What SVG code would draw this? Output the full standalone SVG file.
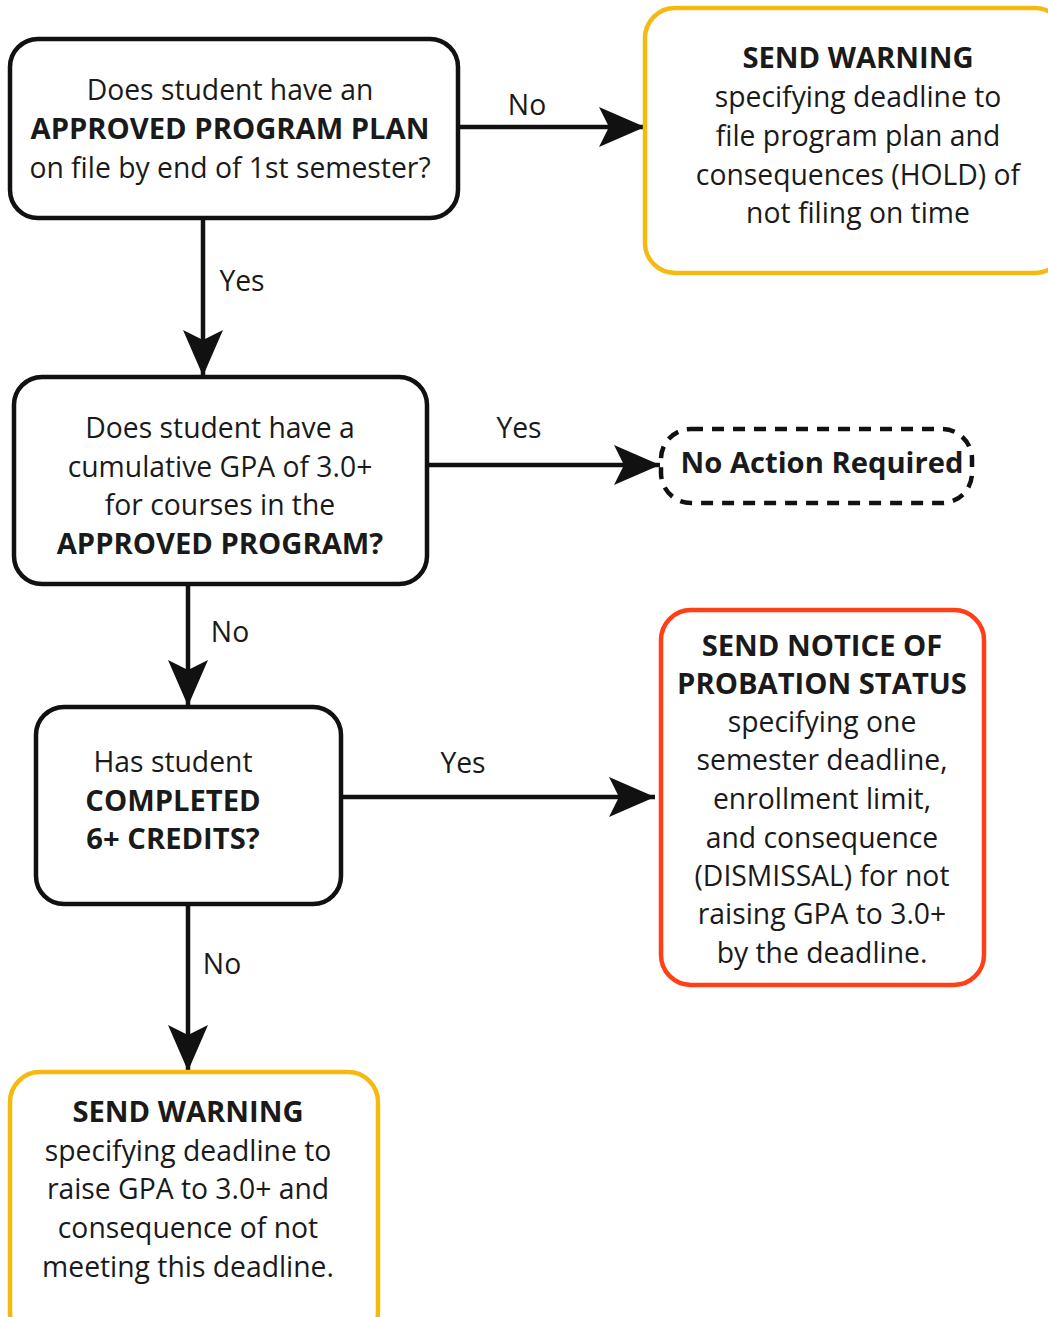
<svg xmlns="http://www.w3.org/2000/svg" width="1048" height="1317" viewBox="0 0 1048 1317">
<style>
.box{fill:#fff;stroke:#111;stroke-width:4.5}
.warn{fill:#fff;stroke:#F5B912;stroke-width:4.5}
.prob{fill:#fff;stroke:#FF4016;stroke-width:4.5}
.dash{fill:#fff;stroke:#111;stroke-width:4.5;stroke-dasharray:12 9}
.line{fill:none;stroke:#111;stroke-width:4.5}
text{font-family:"Open Sans","Noto Sans","Liberation Sans",sans-serif;font-size:28.3px;fill:#1a1a1a;text-anchor:middle}
.b{font-weight:bold;font-size:29.2px}
</style>
<defs>
<marker id="ah" markerUnits="userSpaceOnUse" markerWidth="50" markerHeight="44" refX="46" refY="22" orient="auto" viewBox="0 0 50 44">
<path d="M0,2 L46,22 L0,42 L10,22 Z" fill="#111"/>
</marker>
</defs>
<g id="connectors">
<line class="line" x1="458" y1="127" x2="645" y2="127" marker-end="url(#ah)"/>
<line class="line" x1="203" y1="218" x2="203" y2="376" marker-end="url(#ah)"/>
<line class="line" x1="427" y1="465" x2="660" y2="465" marker-end="url(#ah)"/>
<line class="line" x1="188" y1="584" x2="188" y2="706" marker-end="url(#ah)"/>
<line class="line" x1="341" y1="797" x2="655" y2="797" marker-end="url(#ah)"/>
<line class="line" x1="188" y1="904" x2="188" y2="1071" marker-end="url(#ah)"/>
<text x="527" y="115">No</text>
<text x="242" y="291">Yes</text>
<text x="519" y="438">Yes</text>
<text x="230" y="642">No</text>
<text x="463" y="773">Yes</text>
<text x="222" y="974">No</text>
</g>
<g id="q1">
<rect class="box" x="10" y="39" width="448" height="179" rx="28"/>
<text x="230" y="100">Does student have an</text>
<text x="230" y="139" class="b">APPROVED PROGRAM PLAN</text>
<text x="230" y="178">on file by end of 1st semester?</text>
</g>
<g id="warn1">
<rect class="warn" x="645" y="8" width="420" height="265" rx="30"/>
<text x="858" y="68" class="b">SEND WARNING</text>
<text x="858" y="107">specifying deadline to</text>
<text x="858" y="146">file program plan and</text>
<text x="858" y="185">consequences (HOLD) of</text>
<text x="858" y="223">not filing on time</text>
</g>
<g id="q2">
<rect class="box" x="14" y="377" width="413" height="207" rx="28"/>
<text x="220" y="438">Does student have a</text>
<text x="220" y="477">cumulative GPA of 3.0+</text>
<text x="220" y="515">for courses in the</text>
<text x="220" y="554" class="b">APPROVED PROGRAM?</text>
</g>
<g id="noaction">
<rect class="dash" x="661" y="429" width="311" height="74" rx="30"/>
<text x="822" y="473" class="b">No Action Required</text>
</g>
<g id="q3">
<rect class="box" x="36" y="707" width="305" height="197" rx="28"/>
<text x="173" y="772">Has student</text>
<text x="173" y="811" class="b">COMPLETED</text>
<text x="173" y="849" class="b">6+ CREDITS?</text>
</g>
<g id="probation">
<rect class="prob" x="661" y="610" width="323" height="375" rx="30"/>
<text x="822" y="656" class="b">SEND NOTICE OF</text>
<text x="822" y="694" class="b">PROBATION STATUS</text>
<text x="822" y="732">specifying one</text>
<text x="822" y="770">semester deadline,</text>
<text x="822" y="809">enrollment limit,</text>
<text x="822" y="848">and consequence</text>
<text x="822" y="886">(DISMISSAL) for not</text>
<text x="822" y="924">raising GPA to 3.0+</text>
<text x="822" y="963">by the deadline.</text>
</g>
<g id="warn2">
<rect class="warn" x="10" y="1072" width="368" height="270" rx="30"/>
<text x="188" y="1122" class="b">SEND WARNING</text>
<text x="188" y="1161">specifying deadline to</text>
<text x="188" y="1199">raise GPA to 3.0+ and</text>
<text x="188" y="1238">consequence of not</text>
<text x="188" y="1277">meeting this deadline.</text>
</g>
</svg>
